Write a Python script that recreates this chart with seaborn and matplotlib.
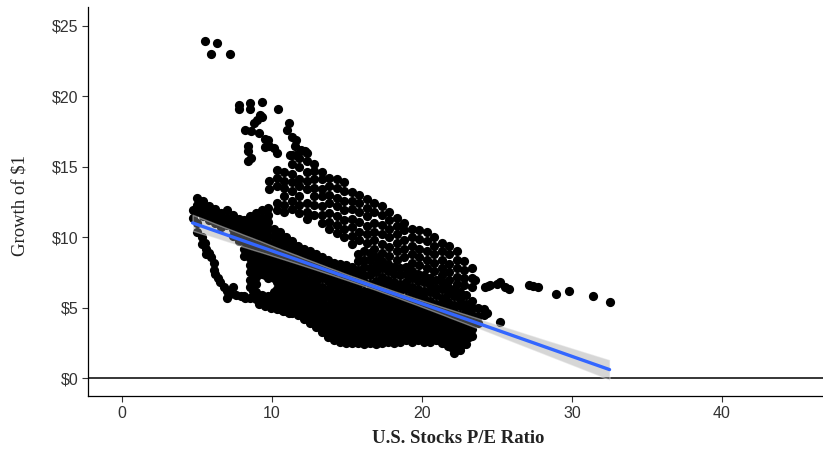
import numpy as np
import pandas as pd
import matplotlib.pyplot as plt
import seaborn as sns
from matplotlib.collections import PolyCollection

# Growth of $1 vs. P/E ratio.
# Each group: column x positions + the y values found in that column.

outlier_x = [5.5, 6.3, 5.9, 7.2]
outlier_y = [[23.9], [23.8], [23.0], [23.0]]

spike_x = [7.8, 8.2, 8.4, 8.5, 8.6, 8.8, 9.0, 9.1, 9.2, 9.3, 9.5, 9.7, 9.8,
           10.1, 10.3, 10.4, 11.0, 11.1, 11.2, 11.3, 11.5, 11.6, 11.9, 12.2]
spike_y = [[19.4, 19.1], [17.6], [16.5, 16.1, 15.4], [19.5, 19.1], [17.5, 15.6],
           [18.1], [18.3], [17.4], [18.7], [19.6, 18.5], [17.0, 16.4], [16.9],
           [16.5], [16.3], [16.0], [19.1], [17.6], [18.1], [15.8], [17.1],
           [16.5], [16.9, 15.8], [16.2], [16.1]]

left_x = [4.7, 5.0, 5.4, 5.8, 6.2, 6.6, 7.0, 7.4, 7.8]
left_y = [[11.9, 11.4], [12.8, 12.3, 11.8, 11.0], [12.6, 12.1, 11.5],
          [12.2, 11.7, 11.2], [12.0, 11.5, 11.0], [11.7, 11.2, 10.7],
          [11.9, 11.4, 10.9], [11.6, 11.1, 10.6, 10.1], [11.3, 10.8, 10.3, 9.7]]

loop_x = [5.0, 5.3, 5.5, 5.6, 5.8, 5.9, 6.1, 6.2, 6.4, 6.5, 6.8, 7.0, 7.2,
          7.4, 7.6, 7.9, 8.2]
loop_y = [[10.4], [10.0, 9.5], [9.6], [9.2, 8.8], [8.9], [8.6], [8.2, 7.7],
          [7.4], [7.1], [6.8], [6.5], [6.2, 5.7], [6.0], [6.5], [5.9], [5.8],
          [5.7]]

arm_x = [9.8, 10.3, 10.8, 11.3, 11.8, 12.3, 12.8, 13.3, 13.8, 14.3, 14.8,
         15.3, 15.8, 16.3, 16.8, 17.3, 17.8, 18.3, 18.8, 19.3, 19.8, 20.3,
         20.8, 21.3, 21.8, 22.3, 22.8, 23.3]
arm_y = [[14.0, 13.4],
         [14.8, 14.2, 13.6, 12.4, 11.9],
         [14.6, 14.0, 13.5, 12.9, 12.3, 11.8],
         [15.8, 15.2, 14.5, 13.9, 13.3, 12.6, 12.0],
         [15.6, 15.0, 14.1, 13.6, 12.9, 12.3, 11.7],
         [16.0, 15.4, 14.6, 14.0, 13.4, 12.4, 11.8, 11.3],
         [15.2, 14.7, 14.1, 13.5, 12.9, 12.3, 11.6],
         [14.6, 14.1, 13.4, 12.9, 12.2, 11.6, 11.0],
         [14.2, 13.6, 13.0, 12.4, 11.7, 11.1, 10.6],
         [14.1, 13.5, 12.8, 12.2, 11.5, 10.9, 10.3],
         [13.9, 13.3, 12.6, 11.9, 11.2, 10.6, 10.0],
         [13.2, 12.6, 12.0, 11.3, 10.7, 10.1, 9.5],
         [13.0, 12.4, 11.8, 11.1, 10.4, 9.8],
         [12.7, 12.1, 11.5, 10.8, 10.2, 9.6],
         [12.4, 11.8, 11.0, 10.4, 9.8, 9.2],
         [12.2, 11.6, 10.9, 10.2, 9.5, 8.9],
         [11.8, 11.2, 10.6, 10.0, 9.3, 8.7],
         [11.4, 10.8, 10.2, 9.6, 9.0, 8.4],
         [11.0, 10.5, 9.8, 9.2, 8.6],
         [10.6, 10.0, 9.4, 8.8, 8.2],
         [10.5, 9.9, 9.2, 8.6, 8.0],
         [10.4, 9.7, 9.0, 8.4, 7.8],
         [10.0, 9.4, 8.8, 8.2, 7.6],
         [9.6, 9.0, 8.4, 7.8, 7.3],
         [9.4, 8.8, 8.1, 7.5, 7.0],
         [9.0, 8.4, 7.8, 7.2, 6.7],
         [8.3, 7.7, 7.1, 6.6],
         [7.8, 7.1, 6.5]]

mass_x = [8.1, 8.5, 8.9, 9.3, 9.7, 10.1, 10.5, 10.9, 11.3, 11.7, 12.1, 12.5,
          12.9, 13.3, 13.7, 14.1, 14.5, 14.9, 15.3, 15.7, 16.1, 16.5, 16.9,
          17.3, 17.7, 18.1, 18.5, 18.9, 19.3, 19.7, 20.1, 20.5, 20.9, 21.3,
          21.7, 22.1, 22.5, 22.9, 23.3, 23.7, 24.1]
mass_y = [[11.2, 10.7, 10.2, 9.7, 9.2, 8.7, 5.8],
          [11.5, 11.0, 10.5, 10.0, 9.5, 9.0, 8.5, 8.0, 7.5, 7.0, 6.5, 5.7],
          [11.7, 11.2, 10.7, 10.2, 9.7, 9.2, 8.7, 8.2, 7.7, 7.2, 6.7, 6.1, 5.6],
          [11.9, 11.4, 10.9, 10.4, 9.9, 9.4, 8.9, 8.4, 7.9, 7.4, 5.9, 5.4],
          [12.1, 11.6, 11.1, 10.6, 10.1, 9.6, 9.1, 8.6, 8.1, 7.6, 7.1, 5.8, 5.2],
          [10.6, 10.1, 9.6, 9.1, 8.6, 8.1, 7.6, 7.1, 6.1, 5.6, 5.1],
          [10.4, 9.9, 9.4, 8.9, 8.4, 7.9, 7.4, 6.9, 6.4, 5.9, 5.4, 4.9],
          [10.0, 9.5, 9.1, 8.6, 8.1, 7.6, 7.1, 6.6, 6.1, 5.6, 5.2, 4.8],
          [9.7, 9.2, 8.7, 8.2, 7.7, 7.2, 6.7, 6.2, 5.7, 5.1, 4.6],
          [9.4, 8.9, 8.4, 7.9, 7.4, 6.9, 6.4, 5.9, 5.4, 4.9, 4.5],
          [9.2, 8.7, 8.2, 7.7, 7.2, 6.7, 6.2, 5.7, 5.2, 4.7, 4.2],
          [9.0, 8.5, 8.0, 7.5, 7.0, 6.5, 6.0, 5.5, 4.9, 4.4, 3.9],
          [8.8, 8.3, 7.8, 7.3, 6.8, 6.3, 5.7, 5.2, 4.7, 4.1, 3.6],
          [8.6, 8.1, 7.6, 7.1, 6.5, 6.0, 5.5, 4.9, 4.4, 3.8, 3.3],
          [8.4, 7.9, 7.4, 6.9, 6.3, 5.8, 5.2, 4.7, 4.1, 3.5, 2.9],
          [8.2, 7.7, 7.1, 6.6, 6.0, 5.5, 4.9, 4.4, 3.8, 3.3, 2.7],
          [8.1, 7.6, 7.0, 6.5, 5.9, 5.4, 4.8, 4.3, 3.7, 3.2, 2.6],
          [8.0, 7.5, 6.9, 6.4, 5.8, 5.3, 4.7, 4.2, 3.6, 3.1, 2.5],
          [7.9, 7.4, 6.8, 6.3, 5.7, 5.2, 4.6, 4.1, 3.6, 3.0, 2.5],
          [8.8, 8.3, 7.7, 7.2, 6.6, 6.1, 5.5, 5.0, 4.5, 4.0, 3.5, 3.0, 2.5],
          [9.0, 8.4, 7.9, 7.3, 6.8, 6.2, 5.7, 5.1, 4.6, 4.0, 3.5, 2.9, 2.4],
          [8.9, 8.4, 7.8, 7.3, 6.7, 6.2, 5.6, 5.1, 4.6, 4.0, 3.5, 3.0, 2.5],
          [8.6, 8.0, 7.5, 6.9, 6.4, 5.8, 5.3, 4.7, 4.2, 3.6, 3.0, 2.4],
          [8.3, 7.8, 7.2, 6.7, 6.1, 5.6, 5.0, 4.5, 4.0, 3.5, 3.0, 2.5],
          [8.1, 7.6, 7.0, 6.5, 5.9, 5.4, 4.8, 4.3, 3.7, 3.2, 2.6],
          [7.9, 7.4, 6.8, 6.3, 5.7, 5.2, 4.6, 4.1, 3.6, 3.0, 2.5],
          [7.8, 7.3, 6.7, 6.2, 5.6, 5.1, 4.6, 4.1, 3.6, 3.1, 2.6],
          [7.9, 7.4, 6.8, 6.3, 5.7, 5.2, 4.7, 4.2, 3.7, 3.2, 2.7],
          [7.6, 7.1, 6.5, 6.0, 5.5, 5.0, 4.5, 4.0, 3.5, 3.0, 2.6],
          [7.4, 6.9, 6.3, 5.8, 5.3, 4.8, 4.2, 3.7, 3.2, 2.7],
          [7.3, 6.8, 6.2, 5.7, 5.2, 4.7, 4.1, 3.6, 3.1, 2.6],
          [7.1, 6.6, 6.1, 5.5, 5.0, 4.5, 4.0, 3.5, 3.0, 2.6],
          [7.0, 6.4, 5.9, 5.3, 4.8, 4.3, 3.7, 3.2, 2.7],
          [6.8, 6.3, 5.7, 5.2, 4.7, 4.1, 3.6, 3.0, 2.5],
          [6.5, 6.0, 5.4, 4.9, 4.4, 3.8, 3.3, 2.8, 2.3],
          [6.3, 5.8, 5.2, 4.7, 4.2, 3.7, 3.2, 2.7, 2.3, 1.8],
          [6.1, 5.6, 5.1, 4.5, 4.0, 3.5, 3.0, 2.5, 2.0],
          [5.9, 5.3, 4.8, 4.3, 3.8, 3.3, 2.8, 2.4],
          [5.5, 5.0, 4.5, 4.0, 3.5, 3.0],
          [5.0, 4.4, 3.9],
          [4.9, 4.5]]

# overlapping points in the crowded lower part of the cloud
fill_x = [10.3, 10.7, 11.1, 11.5, 11.9, 12.3, 12.7, 13.1, 13.5, 13.9, 14.3,
          14.7, 15.1, 15.5, 15.9, 16.3, 16.7, 17.1, 17.5, 17.9, 18.3, 18.7,
          19.1, 19.5, 19.9, 20.3, 20.7, 21.1, 21.5, 21.9, 22.3, 22.7, 23.1]
fill_y = [[7.3, 6.8, 6.3, 5.8, 5.3],
          [7.1, 6.6, 6.1, 5.6, 5.1],
          [6.9, 6.4, 5.9, 5.4, 4.9],
          [6.7, 6.2, 5.7, 5.2, 4.8],
          [6.6, 6.1, 5.6, 5.1, 4.6],
          [6.4, 5.9, 5.4, 4.9, 4.4],
          [6.2, 5.7, 5.2, 4.6, 4.1],
          [6.0, 5.5, 4.9, 4.4, 3.8],
          [5.8, 5.2, 4.7, 4.1, 3.5],
          [6.3, 5.7, 5.1, 4.6, 4.0, 3.4, 3.0],
          [6.2, 5.6, 5.1, 4.5, 4.0, 3.4, 2.9],
          [6.1, 5.5, 5.0, 4.4, 3.9, 3.3, 2.8],
          [6.0, 5.4, 4.9, 4.3, 3.8, 3.2, 2.7],
          [5.9, 5.3, 4.8, 4.2, 3.7, 3.2, 2.7],
          [5.9, 5.4, 4.8, 4.3, 3.7, 3.2, 2.7],
          [5.8, 5.3, 4.8, 4.3, 3.7, 3.2, 2.7],
          [5.8, 5.3, 4.7, 4.2, 3.6, 3.1, 2.6],
          [5.6, 5.1, 4.6, 4.1, 3.5, 3.0, 2.6],
          [5.6, 5.1, 4.5, 4.0, 3.5, 2.9],
          [5.5, 5.0, 4.4, 3.9, 3.3, 2.8],
          [5.4, 4.9, 4.4, 3.8, 3.3, 2.8],
          [5.4, 4.9, 4.4, 3.9, 3.4, 2.9],
          [5.3, 4.8, 4.3, 3.8, 3.3, 2.9],
          [5.2, 4.7, 4.2, 3.7, 3.2, 2.8],
          [5.0, 4.5, 4.0, 3.4, 2.9],
          [4.9, 4.4, 3.9, 3.4, 2.8],
          [4.7, 4.2, 3.7, 3.2, 2.9],
          [4.5, 4.0, 3.5, 3.0, 2.7],
          [4.4, 3.9, 3.4, 2.9, 2.5],
          [4.2, 3.7, 3.2, 2.7, 2.2],
          [4.0, 3.5, 3.0, 2.5, 2.1],
          [3.9, 3.4, 2.9, 2.4],
          [3.8, 3.3, 2.9]]

fill_left_x = [8.7, 9.1, 9.5, 9.9, 10.3, 10.7, 11.1]
fill_left_y = [[8.9, 7.3, 6.2, 5.8], [8.2, 7.6, 5.7, 5.3], [8.0, 7.3, 5.6, 5.1],
               [8.2, 7.5, 5.5, 5.0], [8.8, 8.0, 5.2, 4.9], [8.6, 7.8, 5.0, 4.8],
               [8.3, 7.5, 4.9, 4.6]]

fill_low_x = [13.3, 13.7, 14.1, 14.5, 14.9, 15.3, 15.7, 16.1, 16.5, 16.9, 17.3]
fill_low_y = [[4.6, 4.1, 3.6], [4.5, 3.9, 3.3, 3.1],
              [4.6, 4.1, 3.5, 3.0, 2.9], [4.5, 4.0, 3.4, 2.9, 2.8],
              [4.4, 3.9, 3.3, 2.8, 2.7], [4.3, 3.8, 3.3, 2.7, 2.6],
              [4.2, 3.7, 3.2, 2.7], [4.3, 3.7, 3.2, 2.6], [4.2, 3.7, 3.2, 2.7],
              [4.4, 3.9, 3.3, 2.7], [4.2, 3.7, 3.2, 2.7]]

tail_x = [23.5, 24.2, 24.3, 24.4, 24.5, 25.0, 25.2, 25.5, 25.8, 27.1, 27.4,
          27.7, 28.9, 29.8, 31.4, 32.5]
tail_y = [[7.0], [6.5], [4.6], [6.55], [6.6], [6.7], [6.8, 4.0], [6.5], [6.3],
          [6.6], [6.55], [6.5], [6.0], [6.2], [5.8], [5.4]]

groups = [(outlier_x, outlier_y), (spike_x, spike_y), (left_x, left_y),
          (loop_x, loop_y), (arm_x, arm_y), (mass_x, mass_y),
          (fill_x, fill_y), (fill_left_x, fill_left_y),
          (fill_low_x, fill_low_y), (tail_x, tail_y)]

rows = []
for xs, ys in groups:
    for x, col in zip(xs, ys):
        for y in col:
            rows.append((x, y))
df = pd.DataFrame(rows, columns=['pe', 'growth'])

sns.set_theme(style='ticks')
plt.rcParams['font.family'] = ['Liberation Sans', 'DejaVu Sans']

fig = plt.figure(figsize=(8.23, 4.5), dpi=100)
ax = fig.add_axes([88 / 823, 54 / 450, 735 / 823, 389 / 450])

ax.axhline(0, color='black', lw=1.1, zorder=1)
sns.regplot(data=df, x='pe', y='growth', ax=ax, ci=95, seed=3,
            scatter_kws=dict(s=44, color='black', linewidths=0, alpha=1, zorder=2),
            line_kws=dict(color='#3366FF', lw=2.4, zorder=4))

# ggplot-style grey confidence band
for c in ax.collections:
    if isinstance(c, PolyCollection):
        c.set_facecolor('#999999')
        c.set_alpha(0.4)
        c.set_zorder(3)

ax.set_xlim(-2.27, 46.73)
ax.set_ylim(-1.26, 26.33)
ax.set_xticks([0, 10, 20, 30, 40])
ax.set_yticks([0, 5, 10, 15, 20, 25])
ax.set_yticklabels(['$0', '$5', '$10', '$15', '$20', '$25'])
ax.tick_params(axis='both', labelsize=11.5, labelcolor='#333333', color='#333333',
               length=4, width=0.8, pad=3)

sns.despine(ax=ax)
for s in ['left', 'bottom']:
    ax.spines[s].set_color('black')
    ax.spines[s].set_linewidth(0.9)

ax.set_xlabel('U.S. Stocks P/E Ratio', family='Liberation Serif', fontsize=13.5,
              fontweight='bold', color='#222222')
ax.set_ylabel('Growth of $1', family='Liberation Serif', fontsize=13.5,
              color='#222222')
ax.xaxis.set_label_coords(0.503, -0.088)
ax.yaxis.set_label_coords(-0.081, 0.49)

fig.savefig('out.png', dpi=100)
